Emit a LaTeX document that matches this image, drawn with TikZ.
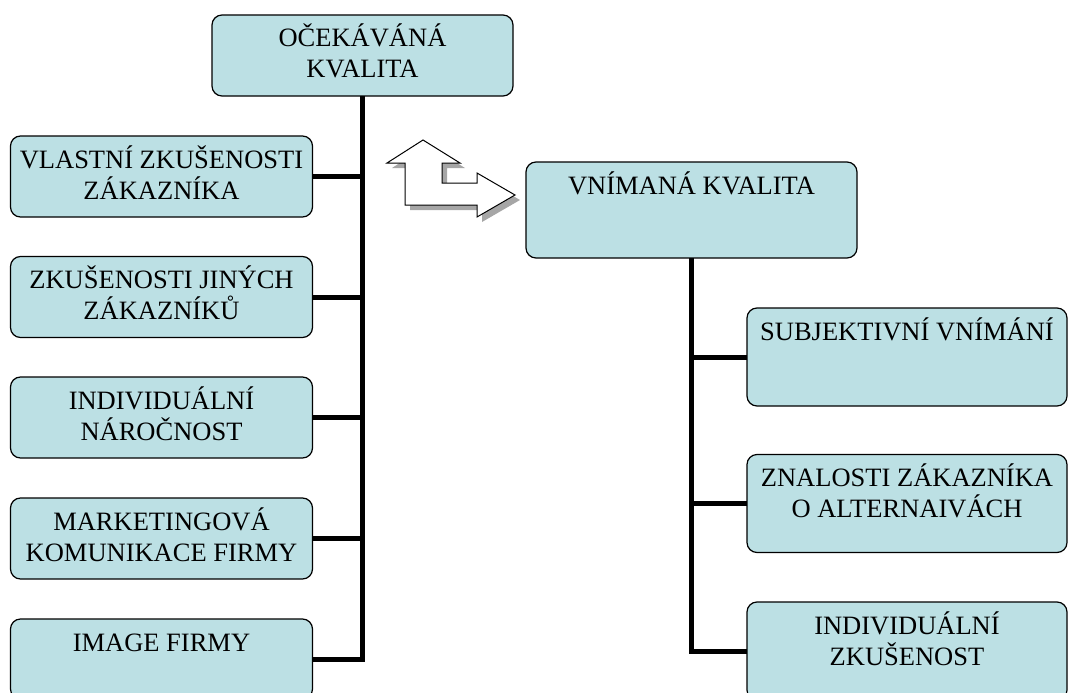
\documentclass[tikz,border=0pt]{standalone}
\usepackage{fontspec}
\setmainfont{Liberation Serif}
\definecolor{boxfill}{RGB}{188,224,228}
\newcommand\bxt[3]{\begin{minipage}[c][#2][t]{#1}\fontsize{26.5}{31}\selectfont\centering\vspace*{8pt}\rule{0pt}{24pt}#3\end{minipage}}
\begin{document}
\begin{tikzpicture}[x=1pt,y=-1pt,
  box/.style={draw=black,fill=boxfill,rounded corners=10pt,line width=1.2pt,inner sep=0pt,outer sep=0pt},
  conn/.style={line width=5pt,draw=black},
  arrowshape/.style={draw=black,fill=white,line width=1pt,line join=miter},
  arrowshadow/.style={fill=gray!70,draw=none}]
\useasboundingbox (0,0) rectangle (1068,693);
% boxes
\node[box] (top) at (362.5,55.5) {\bxt{301pt}{81pt}{OČEKÁVÁNÁ\\KVALITA}};
\node[box] (b1) at (161.5,176.5) {\bxt{302pt}{81pt}{VLASTNÍ ZKUŠENOSTI\\ZÁKAZNÍKA}};
\node[box] (b2) at (161.5,297) {\bxt{302pt}{81pt}{ZKUŠENOSTI JINÝCH\\ZÁKAZNÍKŮ}};
\node[box] (b3) at (161.5,417.5) {\bxt{302pt}{81pt}{INDIVIDUÁLNÍ\\NÁROČNOST}};
\node[box] (b4) at (161.5,538.5) {\bxt{302pt}{81pt}{MARKETINGOVÁ\\KOMUNIKACE FIRMY}};
\node[box] (b5) at (161.5,659) {\bxt{302pt}{80pt}{IMAGE FIRMY}};
\node[box] (vk) at (691.5,210) {\bxt{331pt}{96pt}{VNÍMANÁ KVALITA}};
\node[box] (r1) at (907,357) {\bxt{320pt}{98pt}{SUBJEKTIVNÍ VNÍMÁNÍ}};
\node[box] (r2) at (907,503.5) {\bxt{320pt}{98pt}{ZNALOSTI ZÁKAZNÍKA\\O ALTERNAIVÁCH}};
\node[box] (r3) at (907,651) {\bxt{320pt}{98pt}{INDIVIDUÁLNÍ\\ZKUŠENOST}};
% left tree
\draw[conn] (top.south) -- (top.south |- b5.east) -- (b5.east);
\foreach \b in {b1,b2,b3,b4} \draw[conn] (\b.east) -- (\b.east -| top.south);
% right tree
\draw[conn] (vk.south) -- (vk.south |- r3.west) -- (r3.west);
\foreach \b in {r1,r2} \draw[conn] (\b.west) -- (\b.west -| vk.south);
% bent arrow with shadow
\begin{scope}[shift={(5,5)}]
\fill[arrowshadow] (423,140) -- (460,163) -- (442,163) -- (442,183) -- (477,183) -- (477,173) -- (515,195) -- (477,217) -- (477,205) -- (405,205) -- (405,163) -- (387,163) -- cycle;
\end{scope}
\filldraw[arrowshape] (423,140) -- (460,163) -- (442,163) -- (442,183) -- (477,183) -- (477,173) -- (515,195) -- (477,217) -- (477,205) -- (405,205) -- (405,163) -- (387,163) -- cycle;
\end{tikzpicture}
\end{document}
